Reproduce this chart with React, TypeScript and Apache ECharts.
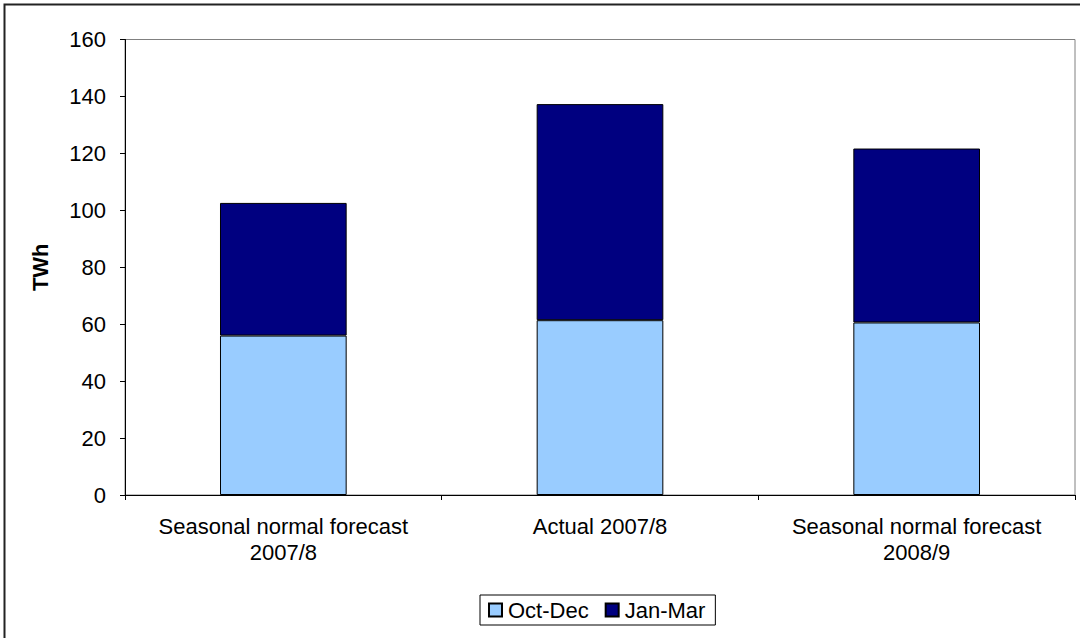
import React, { useEffect, useRef } from "react";
import * as echarts from "echarts";

const categories = ["Seasonal normal forecast\n2007/8", "Actual 2007/8", "Seasonal normal forecast\n2008/9"];
const octDec = [56, 61.4, 60.6];
const janMar = [46.6, 75.9, 61.1];
const seriesNames = ["Oct-Dec", "Jan-Mar"];
const yTicks = { min: 0, max: 160, interval: 20 };

const FONT = "'Liberation Sans', Arial, sans-serif";
const FS = 22;

export default function App() {
  const ref = useRef<HTMLDivElement>(null);
  useEffect(() => {
    document.body.style.margin = "0";
    const chart = echarts.init(ref.current!, null, { renderer: "svg" });
    chart.setOption({
      animation: false,
      backgroundColor: "#ffffff",
      textStyle: { fontFamily: FONT, color: "#000" },
      graphic: [
        {
          type: "rect",
          shape: { x: 4.5, y: 4.5, width: 1200, height: 800 },
          style: { fill: "none", stroke: "#222", lineWidth: 2 },
          silent: true,
        },
      ],
      grid: {
        left: 125,
        right: 5,
        top: 39.5,
        bottom: 143,
        show: true,
        borderColor: "#808080",
        borderWidth: 1,
        backgroundColor: "transparent",
      },
      legend: {
        data: seriesNames,
        left: 480,
        top: 595,
        orient: "horizontal",
        icon: "rect",
        itemWidth: 13,
        itemHeight: 13,
        itemGap: 16,
        padding: [4, 10, 4, 8],
        borderColor: "#000",
        borderWidth: 1,
        textStyle: { fontFamily: FONT, fontSize: FS, color: "#000", padding: [0, 0, 0, 1] },
      },
      xAxis: {
        type: "category",
        data: categories,
        axisLine: { lineStyle: { color: "#000", width: 1 } },
        axisTick: { show: true, length: 5, inside: false, lineStyle: { color: "#000" } },
        axisLabel: {
          fontFamily: FONT,
          fontSize: FS,
          color: "#000",
          lineHeight: 26,
          margin: 18,
          interval: 0,
        },
      },
      yAxis: {
        type: "value",
        min: yTicks.min,
        max: yTicks.max,
        interval: yTicks.interval,
        name: "TWh",
        nameLocation: "middle",
        nameRotate: 90,
        nameGap: 74,
        nameTextStyle: { fontFamily: FONT, fontSize: FS, fontWeight: "bold", color: "#000" },
        axisLine: { show: true, lineStyle: { color: "#000", width: 1 } },
        axisTick: { show: true, length: 5, lineStyle: { color: "#000" } },
        splitLine: { show: false },
        axisLabel: { fontFamily: FONT, fontSize: FS, color: "#000", margin: 19 },
      },
      series: [
        {
          name: seriesNames[0],
          type: "bar",
          stack: "total",
          data: octDec,
          barWidth: "40%",
          itemStyle: { color: "#99CCFF", borderColor: "#000", borderWidth: 1 },
        },
        {
          name: seriesNames[1],
          type: "bar",
          stack: "total",
          data: janMar,
          barWidth: "40%",
          itemStyle: { color: "#000080", borderColor: "#000", borderWidth: 1 },
        },
      ],
    });
    return () => chart.dispose();
  }, []);
  return <div ref={ref} style={{ width: 1080, height: 638 }} />;
}
